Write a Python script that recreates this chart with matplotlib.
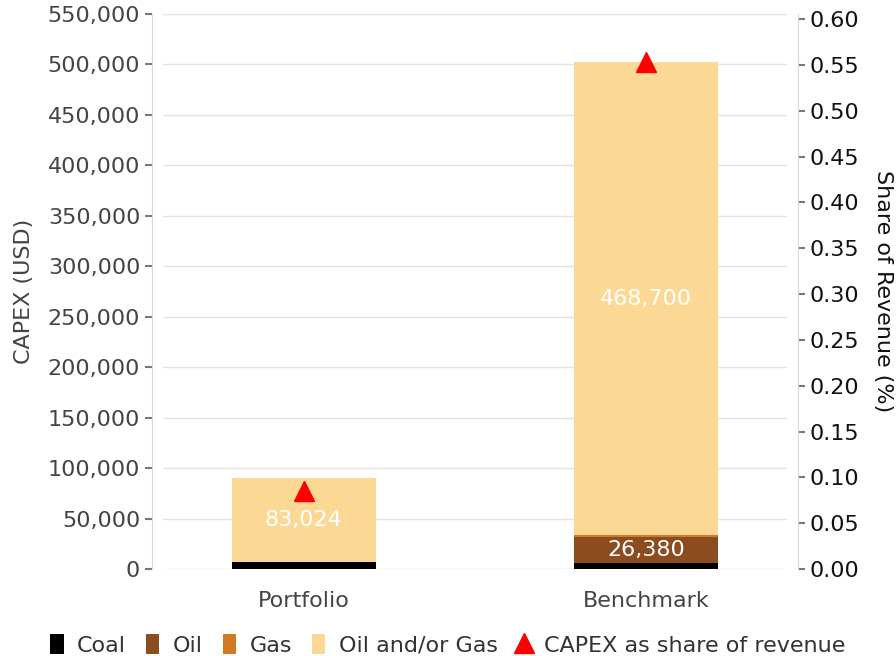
import matplotlib
matplotlib.use("Agg")
import matplotlib.pyplot as plt
from matplotlib.patches import Patch
from matplotlib.lines import Line2D
from matplotlib.ticker import FuncFormatter, MultipleLocator

categories = ["Portfolio", "Benchmark"]
coal = [7100, 5800]
oil = [0, 26380]
gas = [0, 1500]
oil_or_gas = [83024, 468700]
capex_share = [0.085, 0.553]

series_names = ["Coal", "Oil", "Gas", "Oil and/or Gas"]
series_values = [coal, oil, gas, oil_or_gas]
series_colors = ["#000000", "#8B4C20", "#D17A26", "#FCD895"]

FS = 16
plt.rcParams['font.family'] = ['DejaVu Sans']
fig = plt.figure(figsize=(8.96, 6.56), dpi=100)
ax = fig.add_axes([0.182, 0.1326, 0.696, 0.8461])
ax2 = ax.twinx()

x = list(range(len(categories)))
bottom = [0] * len(categories)
for name, vals, col in zip(series_names, series_values, series_colors):
    ax.bar(x, vals, width=0.42, bottom=bottom, color=col, zorder=2)
    for i, v in enumerate(vals):
        if v > 15000:
            ax.text(x[i], bottom[i] + v / 2, f"{v:,}", ha="center", va="center",
                    color="white", fontsize=FS, zorder=3)
    bottom = [b + v for b, v in zip(bottom, vals)]

ax2.plot(x, capex_share, linestyle="none", marker="^", color="#FF0000",
         markersize=14.5, zorder=4)

ax.set_xlim(-0.41, 1.41)
ax.set_ylim(0, 550000)
ax2.set_ylim(0, 0.6055)
ax.yaxis.set_major_locator(MultipleLocator(50000))
ax2.yaxis.set_major_locator(MultipleLocator(0.05))
ax.yaxis.set_major_formatter(FuncFormatter(lambda v, p: f"{v:,.0f}"))
ax2.yaxis.set_major_formatter(FuncFormatter(lambda v, p: f"{v:.2f}"))

ax.set_xticks(x)
ax.set_xticklabels(categories)
ax.grid(axis="y", color="#E3E3E3", linewidth=1, zorder=0)
ax.set_axisbelow(True)

for a in (ax, ax2):
    for s in ("top", "bottom"):
        a.spines[s].set_visible(False)
ax.spines["right"].set_visible(False)
ax2.spines["left"].set_visible(False)
ax.spines["left"].set_position(("outward", 8))
ax2.spines["right"].set_position(("outward", 8))
ax.spines["left"].set_color("#D9D9D9")
ax2.spines["right"].set_color("#D9D9D9")

ax.tick_params(axis="x", length=0, labelsize=FS, labelcolor="#444444", pad=16)
ax.tick_params(axis="y", length=5, color="#777777", width=1.5, labelsize=FS,
               labelcolor="#444444")
ax2.tick_params(axis="y", length=5, color="#777777", width=1.5, labelsize=FS,
                labelcolor="#111111")

ax.set_ylabel("CAPEX (USD)", fontsize=FS, color="#444444", labelpad=10)
ax2.set_ylabel("Share of Revenue (%)", fontsize=FS, color="#111111",
               rotation=270, labelpad=24)

handles = [Patch(facecolor=c, edgecolor="none", label=n)
           for n, c in zip(series_names, series_colors)]
handles.append(Line2D([], [], linestyle="none", marker="^", color="#FF0000",
                      markersize=15, label="CAPEX as share of revenue"))
fig.legend(handles=handles, loc="center", bbox_to_anchor=(0.5, 0.017),
           ncol=5, frameon=False, fontsize=FS, handlelength=0.6,
           handleheight=1.0, handletextpad=0.6, columnspacing=0.9,
           labelcolor="#333333")

fig.savefig("out.png", dpi=100)
